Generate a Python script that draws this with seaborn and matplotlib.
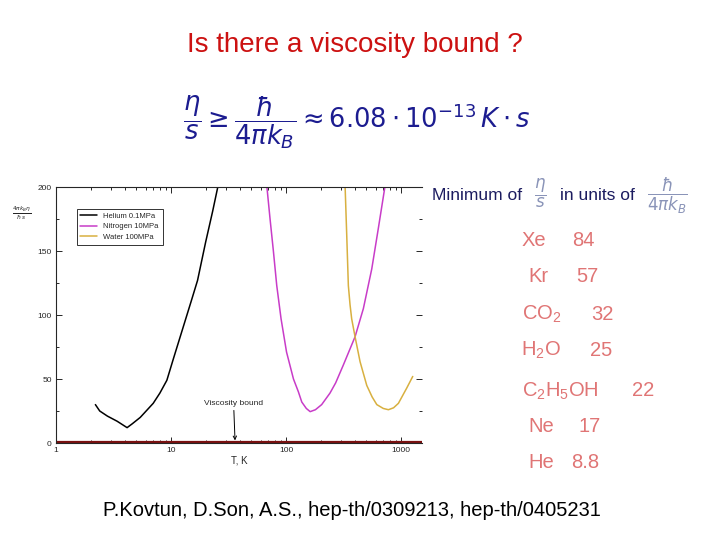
import numpy as np
import pandas as pd
import matplotlib
matplotlib.use('Agg')
import matplotlib.pyplot as plt
import seaborn as sns

# curves (T in K, 4 pi kB eta / hbar s)
helium_T = [2.2, 2.4, 2.8, 3.4, 4.15, 4.6, 5.4, 7.0, 8.0, 9.2, 10.5, 12.5, 15.0, 17.0, 20.0, 23.0, 25.5]
helium_v = [30, 25, 21, 17, 12, 15, 20, 31, 39, 49, 66, 88, 111, 127, 157, 181, 200]

nitrogen_T = [68, 72.6, 77.6, 83, 90.5, 101, 116, 128, 137, 150, 162, 180, 204, 241, 270, 315, 398, 470, 556, 635, 726]
nitrogen_v = [201, 175, 150, 123, 97, 71, 50, 40, 32, 27, 24.5, 26, 30, 39, 47, 61, 83, 105, 136, 168, 201]

water_T = [326, 337, 348, 360, 372, 398, 440, 503, 560, 615, 700, 776, 860, 948, 1121, 1263]
water_v = [201, 162, 123, 108, 97, 83, 63.5, 45, 36, 30, 27, 26, 27.5, 31, 43, 52]

bound_T = [1, 1520]
bound_v = [1, 1]

series_names = ['Helium 0.1MPa', 'Nitrogen 10MPa', 'Water 100MPa']
series_colors = ['black', '#c83cc8', '#d8b040']

molecules = ['Xe', 'Kr', r'CO$_{\mathregular{2}}$', r'H$_{\mathregular{2}}$O',
             r'C$_{\mathregular{2}}$H$_{\mathregular{5}}$OH', 'Ne', 'He']
minima = ['84', '57', '32', '25', '22', '17', '8.8']

df = pd.concat([
    pd.DataFrame({'T': helium_T, 'v': helium_v, 'fluid': series_names[0]}),
    pd.DataFrame({'T': nitrogen_T, 'v': nitrogen_v, 'fluid': series_names[1]}),
    pd.DataFrame({'T': water_T, 'v': water_v, 'fluid': series_names[2]}),
], ignore_index=True)

sns.set_style('ticks')
plt.rcParams['font.family'] = ['Liberation Sans', 'DejaVu Sans']

fig = plt.figure(figsize=(7.2, 5.4), dpi=100)
ax = fig.add_axes([56 / 720, 97 / 540, 366 / 720, 256 / 540])

ax.plot(bound_T, bound_v, color='#7a1010', lw=1.6, zorder=1)
sns.lineplot(data=df, x='T', y='v', hue='fluid', palette=dict(zip(series_names, series_colors)),
             sort=False, estimator=None, lw=1.1, ax=ax)

ax.set_xscale('log')
ax.set_xlim(1, 1520)
ax.set_ylim(0, 200)
ax.set_yticks([0, 50, 100, 150, 200])
ax.set_yticks([25, 75, 125, 175], minor=True)
ax.set_xticks([1, 10, 100, 1000])
ax.set_xticklabels(['1', '10', '100', '1000'])
ax.tick_params(which='both', direction='in', top=True, right=True, labelsize=6, width=0.7, pad=3)
ax.tick_params(which='major', length=4)
ax.tick_params(which='minor', length=2.5)
ax.spines['right'].set_visible(False)
for s in ['left', 'bottom', 'top']:
    ax.spines[s].set_linewidth(0.8)
ax.set_xlabel('T, K', fontsize=7, labelpad=1)
ax.set_ylabel('')

leg = ax.legend(loc='upper left', bbox_to_anchor=(0.046, 0.93), fontsize=5.5, frameon=True,
                fancybox=False, edgecolor='black', handlelength=2.2, borderpad=0.5,
                labelspacing=0.4)
leg.get_frame().set_linewidth(0.7)

ax.annotate('Viscosity bound', xy=(36, 2), xytext=(35, 28), fontsize=6, ha='center', va='bottom',
            arrowprops=dict(arrowstyle='->', color='black', lw=0.7, shrinkA=0, shrinkB=0,
                            mutation_scale=6))

fig.text(22 / 720, 1 - 213 / 540, r'$\frac{4\pi k_B\eta}{\hbar\ s}$', fontsize=6, ha='center', va='center')

# slide text
fig.text(355 / 720, 1 - 45 / 540, 'Is there a viscosity bound ?', fontsize=20, color='#cc1111',
         ha='center', va='center')
fig.text(357 / 720, 1 - 122 / 540,
         r'$\dfrac{\eta}{s} \geq \dfrac{\hbar}{4\pi k_B} \approx 6.08\cdot 10^{-13}\,K\cdot s$',
         fontsize=18.5, color='#1c1c90', ha='center', va='center')

fig.text(432 / 720, 1 - 195 / 540, 'Minimum of', fontsize=12.5, color='#1c1c60', ha='left', va='center')
fig.text(540 / 720, 1 - 193 / 540, r'$\dfrac{\eta}{s}$', fontsize=12, color='#8a94b8', ha='center', va='center')
fig.text(560 / 720, 1 - 195 / 540, 'in units of', fontsize=12.5, color='#1c1c60', ha='left', va='center')
fig.text(667 / 720, 1 - 196 / 540, r'$\dfrac{\hbar}{4\pi k_B}$', fontsize=12, color='#8a94b8',
         ha='center', va='center')

row_y = [241, 277, 314, 350, 391, 427, 463]
name_x = [522, 528, 522, 521, 522, 528, 528]
val_x = [572, 576, 591, 590, 632, 578, 571]
for name, val, y, nx, vx in zip(molecules, minima, row_y, name_x, val_x):
    fig.text(nx / 720, 1 - y / 540, name, fontsize=14.5, color='#e07575', ha='left', va='center')
    fig.text(vx / 720, 1 - y / 540, val, fontsize=14.5, color='#e07575', ha='left', va='center')

fig.text(352 / 720, 1 - 510 / 540, 'P.Kovtun, D.Son, A.S., hep-th/0309213, hep-th/0405231',
         fontsize=14.5, color='black', ha='center', va='center')

fig.savefig('out.png', dpi=100)
